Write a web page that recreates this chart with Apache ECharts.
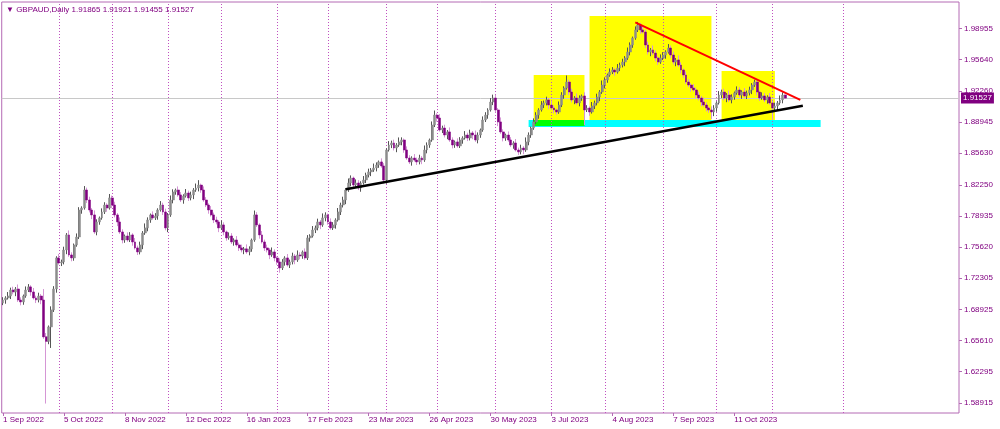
<!DOCTYPE html>
<html><head><meta charset="utf-8">
<script src="https://cdn.jsdelivr.net/npm/echarts@6/dist/echarts.min.js"></script>
<style>html,body{margin:0;padding:0;background:#fff}#c{width:1000px;height:429px}</style>
</head><body><div id="c"></div>
<script>
// ---- chart data ----
const symbolName = 'GBPAUD';
const periodName = 'Daily';
const firstBarDate = '2022-09-01';
const lastBarDate = '2023-11-08';
const closedDays = ['2022-12-26'];
const axisSlots = 377; // trading bars + projected future days on the time scale

const opens = [
1.6960,1.6993,1.7015,1.7036,1.7100,1.7079,1.7111,1.6993,1.6972,1.7036,
1.7100,1.7133,1.7079,1.7015,1.6993,1.7036,1.6993,1.6600,1.6550,1.6705,
1.6887,1.7111,1.7443,1.7389,1.7400,1.7528,1.7689,1.7475,1.7443,1.7582,
1.7667,1.7956,1.7977,1.8170,1.8063,1.7956,1.7903,1.7721,1.7828,1.7871,
1.7935,1.8009,1.7977,1.8085,1.8009,1.7903,1.7828,1.7721,1.7635,1.7678,
1.7635,1.7689,1.7614,1.7550,1.7507,1.7582,1.7710,1.7764,1.7849,1.7903,
1.7871,1.7892,1.7956,1.8009,1.7935,1.7764,1.7903,1.8063,1.8149,1.8170,
1.8117,1.8063,1.8106,1.8138,1.8085,1.8117,1.8170,1.8191,1.8223,1.8170,
1.8063,1.8009,1.7956,1.7903,1.7849,1.7828,1.7764,1.7796,1.7721,1.7657,
1.7678,1.7614,1.7635,1.7582,1.7550,1.7528,1.7540,1.7507,1.7539,1.7635,
1.7903,1.7796,1.7689,1.7614,1.7550,1.7528,1.7475,1.7507,1.7443,1.7400,
1.7336,1.7400,1.7443,1.7368,1.7400,1.7464,1.7421,1.7475,1.7464,1.7507,
1.7443,1.7657,1.7678,1.7742,1.7764,1.7828,1.7796,1.7871,1.7903,1.7828,
1.7764,1.7796,1.7849,1.7935,1.8009,1.8063,1.8170,1.8245,1.8298,1.8223,
1.8245,1.8191,1.8245,1.8277,1.8330,1.8363,1.8384,1.8405,1.8437,1.8470,
1.8427,1.8277,1.8598,1.8651,1.8673,1.8619,1.8651,1.8684,1.8705,1.8598,
1.8512,1.8470,1.8512,1.8491,1.8470,1.8512,1.8491,1.8598,1.8651,1.8705,
1.8865,1.8972,1.8940,1.8812,1.8833,1.8758,1.8791,1.8705,1.8651,1.8684,
1.8641,1.8705,1.8726,1.8758,1.8726,1.8780,1.8758,1.8705,1.8758,1.8812,
1.8919,1.8972,1.9026,1.9111,1.9154,1.9026,1.8898,1.8791,1.8726,1.8758,
1.8705,1.8651,1.8673,1.8598,1.8577,1.8619,1.8598,1.8684,1.8758,1.8833,
1.8898,1.8972,1.9026,1.9079,1.9101,1.9133,1.9079,1.9047,1.9026,1.9004,
1.9079,1.9186,1.9261,1.9325,1.9218,1.9133,1.9154,1.9101,1.9154,1.9176,
1.9026,1.9047,1.9004,1.9069,1.9101,1.9165,1.9218,1.9293,1.9347,1.9400,
1.9432,1.9454,1.9432,1.9475,1.9507,1.9539,1.9582,1.9646,1.9721,1.9796,
1.9882,1.9935,1.9882,1.9860,1.9721,1.9646,1.9668,1.9635,1.9582,1.9539,
1.9582,1.9614,1.9646,1.9689,1.9614,1.9539,1.9561,1.9507,1.9454,1.9400,
1.9325,1.9293,1.9261,1.9240,1.9186,1.9154,1.9111,1.9079,1.9047,1.9026,
1.9004,1.9047,1.9101,1.9186,1.9218,1.9154,1.9186,1.9133,1.9165,1.9208,
1.9240,1.9186,1.9218,1.9176,1.9208,1.9240,1.9293,1.9325,1.9218,1.9154,
1.9176,1.9133,1.9165,1.9101,1.9047,1.9069,1.9101,1.9133,1.91865];

const highs = [
1.7023,1.7033,1.7078,1.7125,1.7135,1.7131,1.7159,1.7021,1.7051,1.7138,
1.7163,1.7151,1.7121,1.7040,1.7071,1.7056,1.7110,1.6640,1.6720,1.6925,
1.7141,1.7461,1.7485,1.7425,1.7563,1.7709,1.7737,1.7503,1.7597,1.7705,
1.7986,1.7995,1.8212,1.8195,1.8098,1.7976,1.7951,1.7856,1.7886,1.7973,
1.8039,1.8027,1.8127,1.8110,1.8044,1.7923,1.7876,1.7749,1.7693,1.7716,
1.7719,1.7707,1.7656,1.7575,1.7617,1.7730,1.7812,1.7877,1.7918,1.7941,
1.7922,1.7974,1.8051,1.8034,1.7970,1.7923,1.8111,1.8177,1.8185,1.8208,
1.8147,1.8124,1.8180,1.8163,1.8152,1.8190,1.8239,1.8275,1.8238,1.8208,
1.8093,1.8027,1.7998,1.7928,1.7884,1.7848,1.7844,1.7824,1.7736,1.7716,
1.7708,1.7653,1.7677,1.7607,1.7585,1.7560,1.7588,1.7567,1.7650,1.7950,
1.7933,1.7814,1.7731,1.7639,1.7585,1.7548,1.7555,1.7535,1.7458,1.7438,
1.7430,1.7461,1.7485,1.7425,1.7499,1.7484,1.7523,1.7503,1.7522,1.7545,
1.7687,1.7696,1.7784,1.7789,1.7863,1.7848,1.7919,1.7931,1.7918,1.7866,
1.7826,1.7867,1.7977,1.8034,1.8098,1.8190,1.8293,1.8326,1.8313,1.8283,
1.8275,1.8263,1.8319,1.8355,1.8398,1.8404,1.8453,1.8465,1.8485,1.8508,
1.8457,1.8616,1.8693,1.8698,1.8708,1.8671,1.8732,1.8733,1.8720,1.8636,
1.8542,1.8530,1.8554,1.8516,1.8547,1.8532,1.8646,1.8679,1.8720,1.8903,
1.9020,1.8990,1.8982,1.8858,1.8868,1.8811,1.8839,1.8733,1.8699,1.8722,
1.8735,1.8744,1.8800,1.8783,1.8815,1.8800,1.8806,1.8786,1.8827,1.8957,
1.9002,1.9044,1.9153,1.9190,1.9189,1.9046,1.8946,1.8819,1.8773,1.8796,
1.8735,1.8691,1.8715,1.8623,1.8654,1.8639,1.8732,1.8786,1.8848,1.8936,
1.9002,1.9044,1.9121,1.9126,1.9168,1.9153,1.9127,1.9075,1.9041,1.9117,
1.9216,1.9279,1.9395,1.9350,1.9253,1.9174,1.9202,1.9182,1.9191,1.9214,
1.9077,1.9065,1.9111,1.9126,1.9200,1.9238,1.9341,1.9375,1.9415,1.9470,
1.9484,1.9472,1.9517,1.9532,1.9574,1.9602,1.9694,1.9749,1.9811,1.9920,
1.9968,1.9953,1.9924,1.9885,1.9756,1.9688,1.9716,1.9663,1.9597,1.9620,
1.9644,1.9664,1.9731,1.9714,1.9649,1.9581,1.9609,1.9535,1.9469,1.9438,
1.9355,1.9311,1.9303,1.9265,1.9221,1.9174,1.9159,1.9107,1.9062,1.9064,
1.9077,1.9119,1.9228,1.9243,1.9253,1.9206,1.9234,1.9193,1.9223,1.9278,
1.9270,1.9236,1.9260,1.9233,1.9275,1.9313,1.9350,1.9353,1.9233,1.9214,
1.9206,1.9183,1.9207,1.9126,1.9104,1.9121,1.9181,1.9214,1.91921];

const lows = [
1.6938,1.6953,1.6998,1.7003,1.7053,1.7034,1.6973,1.6936,1.6942,1.7017,
1.7078,1.7039,1.6998,1.6960,1.6967,1.6948,1.6578,1.5885,1.6520,1.6480,
1.6865,1.7071,1.7372,1.7356,1.7374,1.7483,1.7455,1.7407,1.7413,1.7563,
1.7645,1.7916,1.7960,1.8030,1.7930,1.7858,1.7701,1.7685,1.7798,1.7852,
1.7913,1.7937,1.7960,1.7976,1.7877,1.7783,1.7701,1.7599,1.7605,1.7616,
1.7613,1.7574,1.7533,1.7474,1.7481,1.7537,1.7690,1.7728,1.7819,1.7852,
1.7849,1.7852,1.7939,1.7902,1.7738,1.7719,1.7883,1.8027,1.8119,1.8098,
1.8041,1.8023,1.8089,1.8052,1.8059,1.8072,1.8150,1.8155,1.8140,1.8044,
1.7987,1.7916,1.7886,1.7816,1.7802,1.7719,1.7744,1.7685,1.7627,1.7638,
1.7592,1.7574,1.7565,1.7517,1.7502,1.7483,1.7487,1.7471,1.7509,1.7616,
1.7774,1.7649,1.7597,1.7517,1.7502,1.7430,1.7455,1.7407,1.7370,1.7285,
1.7314,1.7360,1.7351,1.7335,1.7374,1.7376,1.7401,1.7428,1.7434,1.7424,
1.7421,1.7617,1.7661,1.7709,1.7738,1.7751,1.7776,1.7835,1.7798,1.7745,
1.7742,1.7756,1.7832,1.7902,1.7983,1.8018,1.8150,1.8209,1.8193,1.8204,
1.8169,1.8151,1.8228,1.8244,1.8304,1.8318,1.8364,1.8369,1.8407,1.8408,
1.8240,1.8237,1.8581,1.8618,1.8593,1.8574,1.8631,1.8648,1.8568,1.8493,
1.8448,1.8430,1.8474,1.8437,1.8444,1.8446,1.8471,1.8562,1.8621,1.8686,
1.8843,1.8900,1.8795,1.8779,1.8732,1.8713,1.8685,1.8615,1.8621,1.8622,
1.8619,1.8665,1.8709,1.8693,1.8700,1.8713,1.8685,1.8669,1.8728,1.8793,
1.8897,1.8932,1.9009,1.9078,1.9000,1.8853,1.8771,1.8690,1.8696,1.8686,
1.8629,1.8611,1.8581,1.8544,1.8551,1.8553,1.8578,1.8648,1.8728,1.8814,
1.8876,1.8932,1.9009,1.9046,1.9075,1.9034,1.9027,1.8990,1.8974,1.8985,
1.9057,1.9146,1.9244,1.9185,1.9107,1.9088,1.9081,1.9065,1.9124,1.8865,
1.9004,1.8964,1.8987,1.9036,1.9075,1.9120,1.9198,1.9257,1.9317,1.9381,
1.9410,1.9392,1.9415,1.9442,1.9481,1.9494,1.9562,1.9610,1.9691,1.9777,
1.9860,1.9842,1.9843,1.9688,1.9620,1.9601,1.9615,1.9546,1.9509,1.9520,
1.9560,1.9574,1.9629,1.9581,1.9513,1.9494,1.9487,1.9418,1.9370,1.9306,
1.9271,1.9221,1.9223,1.9153,1.9128,1.9066,1.9059,1.9011,1.8996,1.8930,
1.8960,1.9007,1.9084,1.9153,1.9128,1.9109,1.9113,1.9097,1.9135,1.9189,
1.9164,1.9146,1.9159,1.9143,1.9182,1.9195,1.9273,1.9182,1.9124,1.9135,
1.9111,1.9093,1.9084,1.8920,1.9021,1.9024,1.9081,1.9097,1.91455];

const closes = [
1.6993,1.7015,1.7036,1.7100,1.7079,1.7111,1.6993,1.6972,1.7036,1.7100,
1.7133,1.7079,1.7015,1.6993,1.7036,1.6993,1.6598,1.6550,1.6705,1.6887,
1.7111,1.7443,1.7389,1.7400,1.7528,1.7689,1.7475,1.7443,1.7582,1.7667,
1.7956,1.7977,1.8170,1.8063,1.7956,1.7903,1.7721,1.7828,1.7871,1.7935,
1.8009,1.7977,1.8085,1.8009,1.7903,1.7828,1.7721,1.7635,1.7678,1.7635,
1.7689,1.7614,1.7550,1.7507,1.7582,1.7710,1.7764,1.7849,1.7903,1.7871,
1.7892,1.7956,1.8009,1.7935,1.7764,1.7903,1.8063,1.8149,1.8170,1.8117,
1.8063,1.8106,1.8138,1.8085,1.8117,1.8170,1.8191,1.8223,1.8170,1.8063,
1.8009,1.7956,1.7903,1.7849,1.7828,1.7764,1.7796,1.7721,1.7657,1.7678,
1.7614,1.7635,1.7582,1.7550,1.7528,1.7540,1.7507,1.7539,1.7635,1.7903,
1.7796,1.7689,1.7614,1.7550,1.7528,1.7475,1.7507,1.7443,1.7400,1.7336,
1.7400,1.7443,1.7368,1.7400,1.7464,1.7421,1.7475,1.7464,1.7507,1.7443,
1.7657,1.7678,1.7742,1.7764,1.7828,1.7796,1.7871,1.7903,1.7828,1.7764,
1.7796,1.7849,1.7935,1.8009,1.8063,1.8170,1.8245,1.8298,1.8223,1.8245,
1.8191,1.8245,1.8277,1.8330,1.8363,1.8384,1.8405,1.8437,1.8470,1.8427,
1.8277,1.8598,1.8651,1.8673,1.8619,1.8651,1.8684,1.8705,1.8598,1.8512,
1.8470,1.8512,1.8491,1.8470,1.8512,1.8491,1.8598,1.8651,1.8705,1.8865,
1.8972,1.8940,1.8812,1.8833,1.8758,1.8791,1.8705,1.8651,1.8684,1.8641,
1.8705,1.8726,1.8758,1.8726,1.8780,1.8758,1.8705,1.8758,1.8812,1.8919,
1.8972,1.9026,1.9111,1.9154,1.9026,1.8898,1.8791,1.8726,1.8758,1.8705,
1.8651,1.8673,1.8598,1.8577,1.8619,1.8598,1.8684,1.8758,1.8833,1.8898,
1.8972,1.9026,1.9079,1.9101,1.9133,1.9079,1.9047,1.9026,1.9004,1.9079,
1.9186,1.9261,1.9325,1.9218,1.9133,1.9154,1.9101,1.9154,1.9176,1.9026,
1.9047,1.9004,1.9069,1.9101,1.9165,1.9218,1.9293,1.9347,1.9400,1.9432,
1.9454,1.9432,1.9475,1.9507,1.9539,1.9582,1.9646,1.9721,1.9796,1.9882,
1.9935,1.9882,1.9860,1.9721,1.9646,1.9668,1.9635,1.9582,1.9539,1.9582,
1.9614,1.9646,1.9689,1.9614,1.9539,1.9561,1.9507,1.9454,1.9400,1.9325,
1.9293,1.9261,1.9240,1.9186,1.9154,1.9111,1.9079,1.9047,1.9026,1.9004,
1.9047,1.9101,1.9186,1.9218,1.9154,1.9186,1.9133,1.9165,1.9208,1.9240,
1.9186,1.9218,1.9176,1.9208,1.9240,1.9293,1.9325,1.9218,1.9154,1.9176,
1.9133,1.9165,1.9101,1.9047,1.9069,1.9101,1.9133,1.9186,1.91527];

const yTickValues = [1.58915,1.62295,1.65610,1.68925,1.72305,1.75620,1.78935,1.82250,1.85630,1.88945,1.92260,1.95640,1.98955];
const xTickLabels = ['1 Sep 2022','5 Oct 2022','8 Nov 2022','12 Dec 2022','16 Jan 2023','17 Feb 2023','23 Mar 2023','26 Apr 2023','30 May 2023','3 Jul 2023','4 Aug 2023','7 Sep 2023','11 Oct 2023'];
const monthSeparators = ['2022-10-03','2022-11-01','2022-12-01','2023-01-02','2023-02-01','2023-03-01','2023-04-03','2023-05-01','2023-06-01','2023-07-03','2023-08-01','2023-09-01','2023-10-02','2023-11-01','2023-12-01'];
const lastPrice = 1.91527;

// drawn objects: [barIndex, price]
const supportLine = [[135, 1.8178], [315, 1.9072]];
const resistanceLine = [[249, 1.9964], [314, 1.9133]];
// zones: [fromBar, topPrice, toBar, bottomPrice]
const yellowZones = [[209, 1.9400, 229, 1.8919], [231, 2.0031, 279, 1.8919], [283, 1.9443, 304, 1.8919]];
const cyanZone = [207, 1.8919, 322, 1.8844];
const greenZone = [209, 1.8919, 229, 1.8855];

// ---- build ----
const MONTHS = ['Jan','Feb','Mar','Apr','May','Jun','Jul','Aug','Sep','Oct','Nov','Dec'];
function iso(d){ return d.toISOString().slice(0,10); }
function buildCategories(){
  const out = [];
  const d = new Date(firstBarDate + 'T00:00:00Z');
  const end = new Date(lastBarDate + 'T00:00:00Z').getTime();
  while (d.getTime() <= end) {
    const wd = d.getUTCDay();
    const s = iso(d);
    if (wd !== 0 && wd !== 6 && closedDays.indexOf(s) < 0) out.push(s);
    d.setUTCDate(d.getUTCDate() + 1);
  }
  while (out.length < axisSlots) { out.push(iso(d)); d.setUTCDate(d.getUTCDate() + 1); }
  return out;
}
const categories = buildCategories();
function fmtDate(s){ const p = s.split('-'); return (+p[2]) + ' ' + MONTHS[+p[1]-1] + ' ' + p[0]; }
const labelSet = new Set(xTickLabels);
const showTick = (idx, val) => idx < closes.length && labelSet.has(fmtDate(categories[idx]));

const ohlc = closes.map((c, i) => [opens[i], c, lows[i], highs[i]]);
const bodies = closes.map((c, i) => [opens[i], c, Math.min(opens[i], c), Math.max(opens[i], c)]);

const TXT = '#800080';
const FRAME = '#b46ab4';
const FONT = 'Liberation Sans, Arial, sans-serif';
const last = closes.length - 1;
const headerText = '\u25BC ' + symbolName + ',' + periodName + ' ' +
  [opens[last], highs[last], lows[last], closes[last]].map(v => v.toFixed(5)).join(' ');

const zoneArea = (z, color) => [{xAxis: z[0], yAxis: z[1], itemStyle: {color: color}}, {xAxis: z[2], yAxis: z[3]}];

const chart = echarts.init(document.getElementById('c'), null, {renderer: 'canvas'});
chart.setOption({
  animation: false,
  backgroundColor: '#ffffff',
  title: {
    text: headerText, left: 1, top: 1,
    textStyle: {fontSize: 8, color: TXT, fontWeight: 'normal', fontFamily: FONT}
  },
  grid: {left: 1, right: 41, top: 2, bottom: 16, show: true, borderColor: FRAME, borderWidth: 1, backgroundColor: '#fff'},
  xAxis: {
    type: 'category', data: categories, boundaryGap: true,
    axisLine: {show: false},
    axisTick: {show: true, interval: showTick, alignWithLabel: true, length: 3, lineStyle: {color: FRAME}},
    axisLabel: {interval: showTick, formatter: v => fmtDate(v), align: 'left', margin: 3,
      color: TXT, fontSize: 8, fontFamily: FONT},
    splitLine: {show: false}
  },
  yAxis: {
    type: 'value', position: 'right', min: 1.5784, max: 2.0181,
    axisLine: {show: false},
    splitLine: {show: false},
    axisTick: {show: true, customValues: yTickValues, length: 3, lineStyle: {color: FRAME}},
    axisLabel: {customValues: yTickValues, formatter: v => v.toFixed(5), color: TXT, fontSize: 8, margin: 5, fontFamily: FONT}
  },
  series: [
    {
      name: 'zones', type: 'line', data: [], silent: true, z: 1,
      markArea: {
        silent: true, z: 1,
        itemStyle: {opacity: 1},
        data: [zoneArea(cyanZone, '#00ffff')]
          .concat(yellowZones.map(z => zoneArea(z, '#ffff00')))
          .concat([zoneArea(greenZone, '#00ff00')])
      },
      markLine: {
        silent: true, z: 1, symbol: 'none',
        label: {show: false},
        lineStyle: {color: '#c050c0', type: [1, 2], width: 1},
        data: monthSeparators.map(d => ({xAxis: d}))
      }
    },
    {
      name: 'bid', type: 'line', data: [], silent: true, z: 2,
      markLine: {
        silent: true, z: 2, symbol: 'none', precision: 5,
        lineStyle: {color: '#c8c8c8', type: 'solid', width: 1},
        label: {show: true, position: 'end', formatter: lastPrice.toFixed(5), backgroundColor: TXT,
          color: '#ffffff', fontSize: 8, fontFamily: FONT, padding: [2, 2, 1, 2], distance: 2},
        data: [{yAxis: lastPrice, lineStyle: {color: '#c8c8c8', width: 1, type: 'solid'}}]
      }
    },
    {
      name: 'wicks', type: 'candlestick', data: ohlc, barWidth: 1, z: 3, silent: true,
      itemStyle: {color: '#555555', color0: '#d596d5', borderColor: '#555555', borderColor0: '#d596d5', borderWidth: 1}
    },
    {
      name: 'bodies', type: 'candlestick', data: bodies, barWidth: 2.4, z: 4, silent: true,
      itemStyle: {color: '#8c8c8c', color0: '#800080', borderColor: '#8c8c8c', borderColor0: '#800080', borderWidth: 0.5}
    },
    {
      name: 'lines', type: 'line', data: [], silent: true, z: 6,
      markLine: {
        silent: true, z: 6, symbol: 'none', label: {show: false},
        data: [
          [{coord: supportLine[0], lineStyle: {color: '#000000', width: 2.5, type: 'solid'}}, {coord: supportLine[1]}],
          [{coord: resistanceLine[0], lineStyle: {color: '#ff0000', width: 2, type: 'solid'}}, {coord: resistanceLine[1]}]
        ]
      }
    }
  ]
});
</script>
</body></html>
